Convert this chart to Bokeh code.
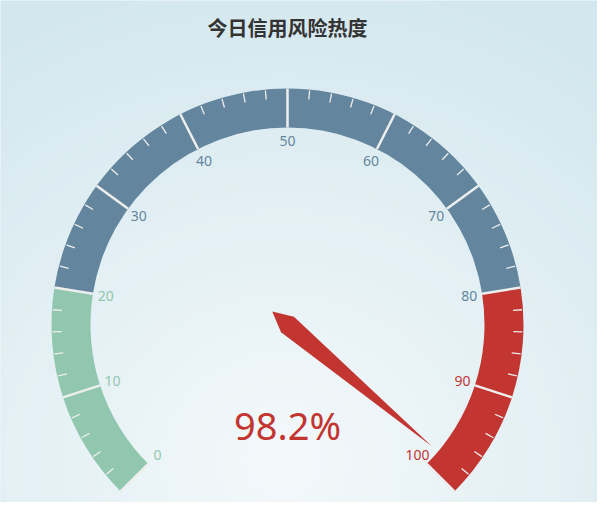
import numpy as np
from bokeh.plotting import figure
from bokeh.models import Range1d, ColumnDataSource
from bokeh.core.properties import value
from bokeh.embed import file_html
from bokeh.resources import INLINE

# ---------------- data ----------------
title_text = "今日信用风险热度"
gauge_min = 0
gauge_max = 100
gauge_value = 98.2
detail_text = "98.2%"
band_stops = [0.2, 0.8, 1.0]
band_colors = ["#91c7ae", "#63869e", "#c23531"]
tick_values = [0, 10, 20, 30, 40, 50, 60, 70, 80, 90, 100]
tick_labels = ["0", "10", "20", "30", "40", "50", "60", "70", "80", "90", "100"]
minor_per_split = 5

# ---------------- layout ----------------
W, H = 597, 502
CX, CY = 287, 178
R_OUT, R_IN = 236, 197
R_LABEL = 184
START_DEG, END_DEG = 225, -45


def theta(v):
    frac = (v - gauge_min) / (gauge_max - gauge_min)
    return np.radians(START_DEG + (END_DEG - START_DEG) * frac)


def color_for(v):
    frac = (v - gauge_min) / (gauge_max - gauge_min)
    for stop, col in zip(band_stops, band_colors):
        if frac <= stop + 1e-9:
            return col
    return band_colors[-1]


p = figure(width=W, height=H, x_range=Range1d(0, W), y_range=Range1d(0, H),
           output_backend="svg", toolbar_location=None, min_border=0,
           x_axis_type=None, y_axis_type=None, outline_line_color=None,
           background_fill_color="#d8ebf1", border_fill_color="#d8ebf1")
p.grid.visible = False

# background radial gradient
yy, xx = np.mgrid[0:H, 0:W]
d = np.sqrt((xx - 282.0) ** 2 + ((yy - 40.0) * 1.1) ** 2)
t = np.clip(d / 560.0, 0, 1)
c0 = np.array([244, 249, 251], dtype=float)
c1 = np.array([210, 231, 238], dtype=float)
rr = (c0[0] + (c1[0] - c0[0]) * t).astype(np.uint32)
gg = (c0[1] + (c1[1] - c0[1]) * t).astype(np.uint32)
bb = (c0[2] + (c1[2] - c0[2]) * t).astype(np.uint32)
img = (255 << 24) | (bb << 16) | (gg << 8) | rr
p.image_rgba(image=[img.astype(np.uint32)], x=0, y=0, dw=W, dh=H)

# band segments
prev = 0.0
seg_start, seg_end, seg_col = [], [], []
for stop, col in zip(band_stops, band_colors):
    v0 = gauge_min + prev * (gauge_max - gauge_min)
    v1 = gauge_min + stop * (gauge_max - gauge_min)
    seg_start.append(theta(v1))
    seg_end.append(theta(v0))
    seg_col.append(col)
    prev = stop
p.annular_wedge(x=CX, y=CY, inner_radius=R_IN, outer_radius=R_OUT,
                inner_radius_units="screen", outer_radius_units="screen",
                start_angle=seg_start, end_angle=seg_end, fill_color=seg_col,
                line_color=None, direction="anticlock")

# minor ticks
step = (tick_values[1] - tick_values[0]) / minor_per_split
minor = []
for i in range(len(tick_values) - 1):
    for k in range(1, minor_per_split):
        minor.append(tick_values[i] + k * step)
mt = theta(np.array(minor))
p.segment(x0=CX + (R_OUT - 1) * np.cos(mt), y0=CY + (R_OUT - 1) * np.sin(mt),
          x1=CX + (R_OUT - 10) * np.cos(mt), y1=CY + (R_OUT - 10) * np.sin(mt),
          line_color="#eeeeee", line_width=1.3)

# split lines
st = theta(np.array(tick_values, dtype=float))
p.segment(x0=CX + R_IN * np.cos(st), y0=CY + R_IN * np.sin(st),
          x1=CX + R_OUT * np.cos(st), y1=CY + R_OUT * np.sin(st),
          line_color="#eeeeee", line_width=2.5)

# labels
lab_src = ColumnDataSource(dict(
    x=CX + R_LABEL * np.cos(st), y=CY + R_LABEL * np.sin(st),
    text=tick_labels, color=[color_for(v) for v in tick_values]))
p.text(x="x", y="y", text="text", text_color="color", source=lab_src,
       text_align="center", text_baseline="middle",
       text_font=value("Noto Sans"), text_font_size="14px")

# pointer
pt = theta(gauge_value)
pw, pl = 10.0, 0.8 * R_OUT
ux, uy = np.cos(pt), np.sin(pt)
nx, ny = -uy, ux
px = [CX - 2 * pw * ux, CX + pw * nx, CX + pl * ux, CX - pw * nx]
py = [CY - 2 * pw * uy, CY + pw * ny, CY + pl * uy, CY - pw * ny]
p.patch(px, py, fill_color=color_for(gauge_value), line_color=None)

# title
p.text(x=[CX], y=[H - 27], text=[title_text], text_align="center",
       text_baseline="middle", text_font=value("Noto Sans CJK SC"),
       text_font_size="20px", text_font_style="bold", text_color="#333333")

# detail
p.text(x=[CX], y=[78], text=[detail_text], text_align="center",
       text_baseline="middle", text_font=value("Noto Sans"),
       text_font_size="38px", text_color=color_for(gauge_value))

open("out.html", "w").write(file_html(p, INLINE))
